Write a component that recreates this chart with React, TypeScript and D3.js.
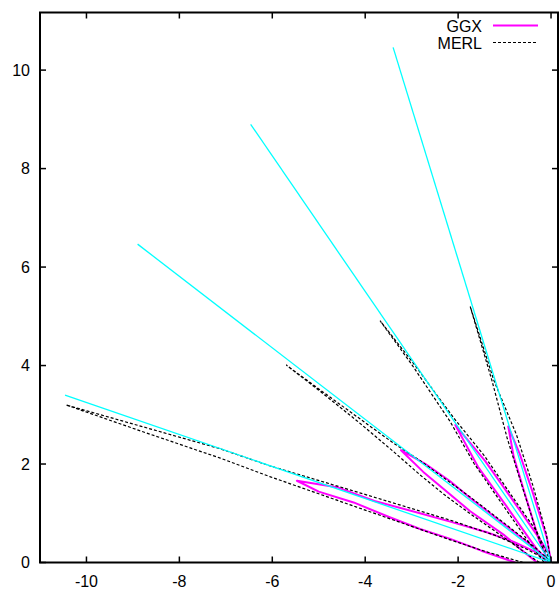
import React from "react";
import * as d3 from "d3";

type P = [number, number];

// x/y data points of each lobe
const ggx18: P[] = [[-0.77,0],[-1.5,0.24],[-2.17,0.48],[-2.82,0.68],[-3.5,0.93],[-4.25,1.22],[-5.0,1.44],[-5.47,1.66],[-4.61,1.53],[-3.8,1.25],[-2.82,1.0],[-2.17,0.83],[-1.4,0.62],[-0.8,0.42],[-0.35,0.22],[-0.1,0.08],[0,0]];
const ggx36: P[] = [[-0.3,0],[-0.55,0.19],[-1.0,0.55],[-1.74,1.04],[-2.17,1.38],[-2.75,1.84],[-3.23,2.28],[-2.7,2.0],[-2.17,1.65],[-1.74,1.31],[-1.0,0.77],[-0.4,0.33],[-0.1,0.09],[0,0]];
const ggx54: P[] = [[-0.1,0],[-0.173,0.1],[-0.424,0.424],[-0.964,1.149],[-1.573,1.943],[-2.06,2.79],[-1.416,2.06],[-0.817,1.258],[-0.282,0.53],[-0.026,0.148],[0,0]];
const ggx72: P[] = [[-0.05,0],[-0.25,0.433],[-0.562,1.391],[-0.805,2.155],[-0.92,2.76],[-0.672,2.2],[-0.401,1.445],[-0.087,0.492],[0,0]];

const merl18: P[] = [[-0.6,0],[-1.4,0.22],[-2.17,0.46],[-4.2,1.13],[-6.04,1.74],[-7.12,2.12],[-8.8,2.66],[-10.44,3.2],[-8.8,2.76],[-7.12,2.31],[-6.04,1.96],[-4.1,1.41],[-2.17,0.86],[-1.2,0.55],[-0.5,0.26],[-0.15,0.08],[0,0]];
const merl36: P[] = [[-0.25,0],[-0.5,0.16],[-1.0,0.5],[-1.74,0.99],[-2.3,1.38],[-2.82,1.78],[-3.4,2.26],[-4.18,2.88],[-5.0,3.5],[-5.7,4.01],[-4.6,3.25],[-3.4,2.43],[-2.82,2.07],[-1.74,1.33],[-0.9,0.72],[-0.35,0.31],[-0.08,0.08],[0,0]];
const merl54: P[] = [[-0.15,0],[-0.52,0.468],[-1.06,1.198],[-1.654,2.006],[-2.176,2.868],[-2.99,4.01],[-3.68,4.91],[-2.953,4.035],[-2.09,2.93],[-1.435,2.168],[-0.848,1.357],[-0.307,0.629],[0,0]];
const merl72: P[] = [[-0.05,0],[-0.282,0.53],[-0.6,1.483],[-0.945,2.529],[-1.27,3.688],[-1.74,5.2],[-1.231,3.7],[-0.744,2.595],[-0.387,1.553],[-0.104,0.591],[0,0]];

const ggxLobes = [ggx18, ggx36, ggx54, ggx72];
const merlLobes = [merl18, merl36, merl54, merl72];

// mirror directions (elevation, degrees) and their length
const mirrorAngles = [18, 36, 54, 72];
const mirrorLength = 11;

const xTicks = [-10, -8, -6, -4, -2, 0];
const yTicks = [0, 2, 4, 6, 8, 10];
const seriesNames = ["GGX", "MERL"];

const W = 559, H = 589;
const L = 40, R = 558, T = 12.5, B = 562.5;

export default function App() {
  const x = d3.scaleLinear().domain([-11, 0.15]).range([L, R]);
  const y = d3.scaleLinear().domain([0, 11.17]).range([B, T]);
  const line = d3.line<P>().x(d => x(d[0])).y(d => y(d[1]));
  const font = "'Liberation Sans', Arial, sans-serif";
  const tk = 6;
  return (
    <svg width={W} height={H} style={{ position: "absolute", left: 0, top: 0, background: "#fff" }}>
      <defs>
        <clipPath id="plot"><rect x={L} y={T} width={R - L} height={B - T} /></clipPath>
      </defs>
      <rect x={0} y={0} width={W} height={H} fill="#fff" />
      <g clipPath="url(#plot)" fill="none">
        {ggxLobes.map((d, i) => (
          <path key={"g" + i} d={line(d) || ""} stroke="#ff00ff" strokeWidth={2} strokeLinejoin="round" />
        ))}
        {merlLobes.map((d, i) => (
          <path key={"m" + i} d={line(d) || ""} stroke="#000" strokeWidth={1.2} strokeDasharray="3,2" />
        ))}
        {mirrorAngles.map((a, i) => {
          const rad = (a * Math.PI) / 180;
          const pts: P[] = [[0, 0], [-mirrorLength * Math.cos(rad), mirrorLength * Math.sin(rad)]];
          return <path key={"c" + i} d={line(pts) || ""} stroke="#00ffff" strokeWidth={1.3} />;
        })}
      </g>
      <g stroke="#000" strokeWidth={1.5}>
        {xTicks.map(t => (
          <g key={"xt" + t}>
            <line x1={x(t)} x2={x(t)} y1={B} y2={B - tk} />
            <line x1={x(t)} x2={x(t)} y1={T} y2={T + tk} />
          </g>
        ))}
        {yTicks.map(t => (
          <g key={"yt" + t}>
            <line x1={L} x2={L + tk} y1={y(t)} y2={y(t)} />
            <line x1={R} x2={R - tk} y1={y(t)} y2={y(t)} />
          </g>
        ))}
      </g>
      <rect x={L} y={T} width={R - L} height={B - T} fill="none" stroke="#000" strokeWidth={2} />
      <g fontFamily={font} fontSize={16} fill="#000">
        {xTicks.map(t => (
          <text key={"xl" + t} x={x(t)} y={587} textAnchor="middle">{t}</text>
        ))}
        {yTicks.map(t => (
          <text key={"yl" + t} x={30} y={y(t) + 5.5} textAnchor="end">{t}</text>
        ))}
        <text x={482} y={31.5} textAnchor="end">{seriesNames[0]}</text>
        <text x={482} y={48.5} textAnchor="end">{seriesNames[1]}</text>
      </g>
      <line x1={493} x2={538} y1={25.5} y2={25.5} stroke="#ff00ff" strokeWidth={2} />
      <line x1={493} x2={538} y1={42.5} y2={42.5} stroke="#000" strokeWidth={1.2} strokeDasharray="3,2" />
    </svg>
  );
}
